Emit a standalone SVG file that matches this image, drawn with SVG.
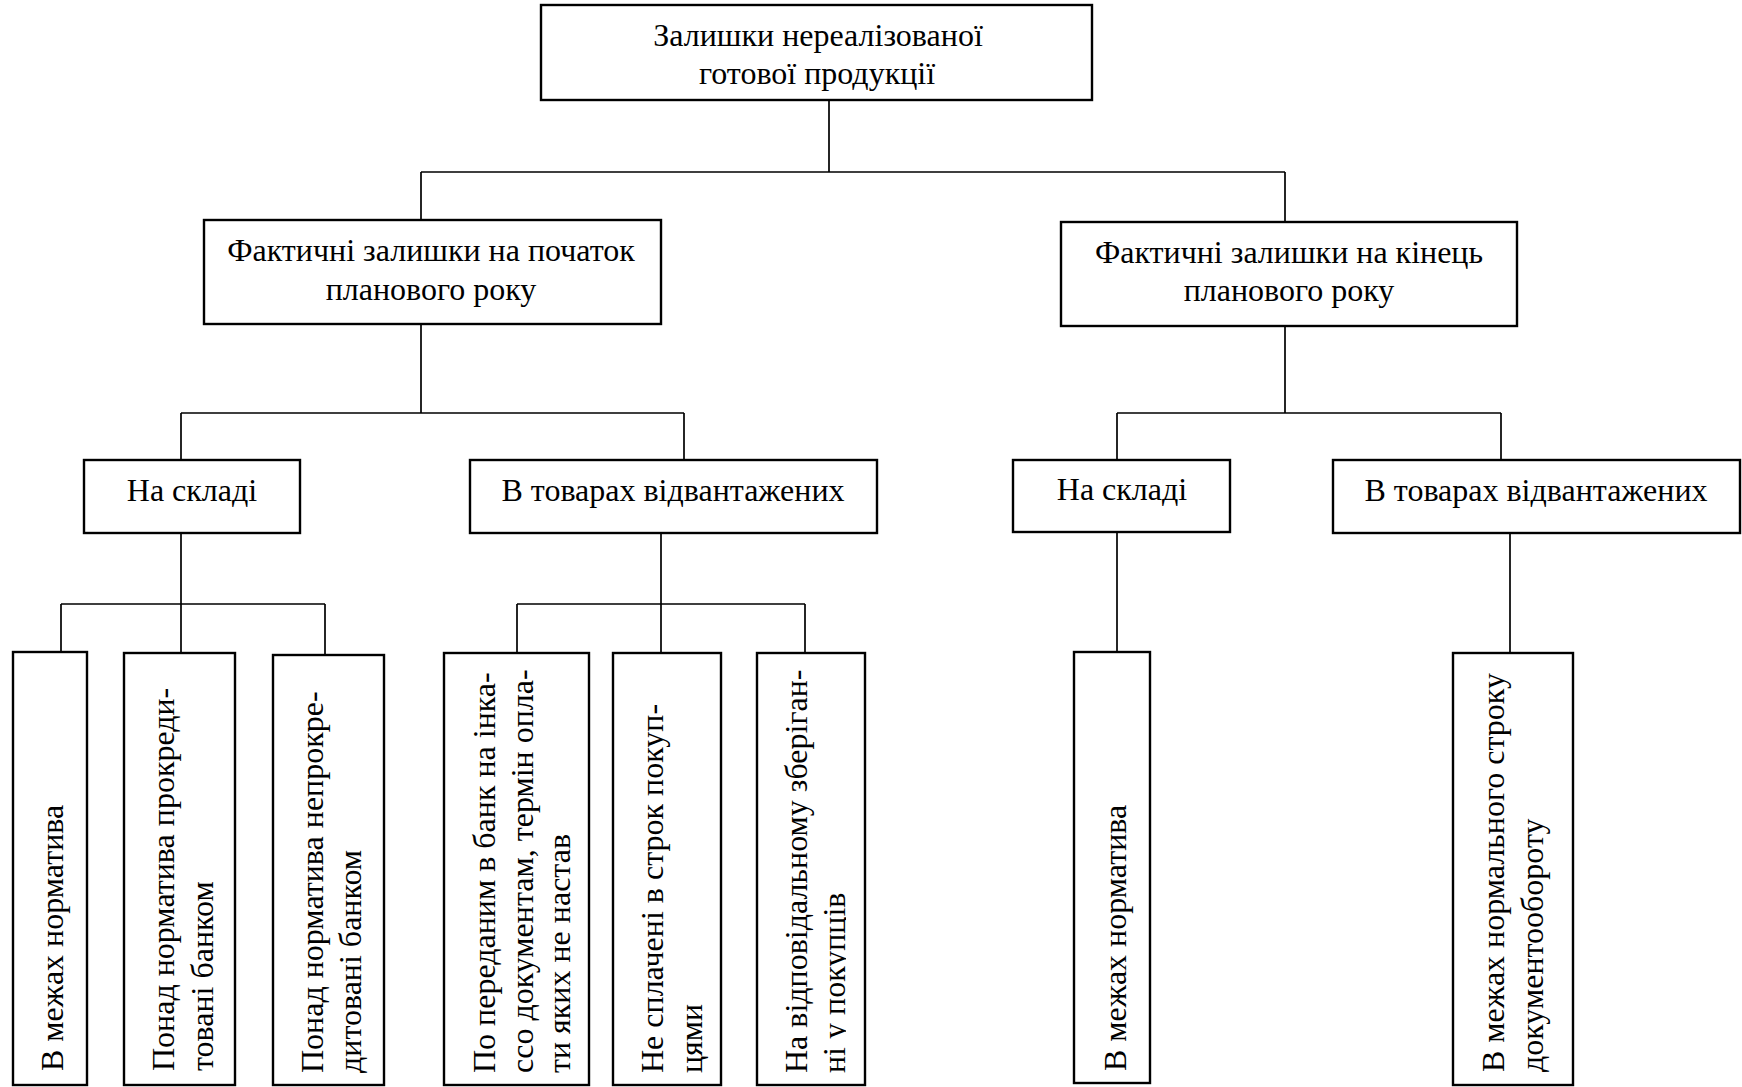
<svg xmlns="http://www.w3.org/2000/svg" width="1742" height="1087" viewBox="0 0 1742 1087">
<style>
.box{fill:#fff;stroke:#000;stroke-width:2.4}
.con{fill:none;stroke:#000;stroke-width:1.7}
.t{font-family:'Liberation Serif','Times New Roman','DejaVu Serif',serif;font-size:32px;fill:#000}
.c{text-anchor:middle}
</style>
<defs>
<clipPath id="clipB6"><rect x="750" y="640" width="96" height="450"/></clipPath>
</defs>
<rect width="1742" height="1087" fill="#fff"/>
<g id="connectors">
<path class="con" d="M829,100 V172 M421,172 H1285 M421,172 V220 M1285,172 V222"/>
<path class="con" d="M421,324 V413 M181,413 H684 M181,413 V461 M684,413 V461"/>
<path class="con" d="M1285,326 V413 M1117,413 H1501 M1117,413 V461 M1501,413 V461"/>
<path class="con" d="M181,533 V653 M61,604 H325 M61,604 V652 M325,604 V655"/>
<path class="con" d="M661,533 V653 M517,604 H805 M517,604 V653 M805,604 V653"/>
<path class="con" d="M1117,532 V652"/>
<path class="con" d="M1510,533 V653"/>
</g>
<g class="t" font-family="Liberation Serif, DejaVu Serif, serif">
<g id="n-root">
<rect class="box" x="541" y="5" width="551" height="95"/>
<text class="c" x="818" y="46">Залишки нереалізованої</text>
<text class="c" x="817" y="84">готової продукції</text>
</g>
<g id="n-start">
<rect class="box" x="204" y="220" width="457" height="104"/>
<text class="c" x="431" y="261">Фактичні залишки на початок</text>
<text class="c" x="431" y="300">планового року</text>
</g>
<g id="n-end">
<rect class="box" x="1061" y="222" width="456" height="104"/>
<text class="c" x="1289" y="263">Фактичні залишки на кінець</text>
<text class="c" x="1289" y="301">планового року</text>
</g>
<g id="n-start-warehouse">
<rect class="box" x="84" y="460" width="216" height="73"/>
<text class="c" x="192" y="501">На складі</text>
</g>
<g id="n-start-shipped">
<rect class="box" x="470" y="460" width="407" height="73"/>
<text class="c" x="673" y="501">В товарах відвантажених</text>
</g>
<g id="n-end-warehouse">
<rect class="box" x="1013" y="460" width="217" height="72"/>
<text class="c" x="1122" y="500">На складі</text>
</g>
<g id="n-end-shipped">
<rect class="box" x="1333" y="460" width="407" height="73"/>
<text class="c" x="1536" y="501">В товарах відвантажених</text>
</g>
<g id="n-b1">
<rect class="box" x="13" y="652" width="74" height="433"/>
<text transform="translate(63,1071) rotate(-90)">В межах норматива</text>
</g>
<g id="n-b2">
<rect class="box" x="124" y="653" width="111" height="432"/>
<text transform="translate(174,1071) rotate(-90)">Понад норматива прокреди-<tspan x="0" dy="39">товані банком</tspan></text>
</g>
<g id="n-b3">
<rect class="box" x="273" y="655" width="111" height="430"/>
<text transform="translate(323,1073) rotate(-90)">Понад норматива непрокре-<tspan x="0" dy="38">дитовані банком</tspan></text>
</g>
<g id="n-b4">
<rect class="box" x="444" y="653" width="145" height="432"/>
<text transform="translate(495,1073) rotate(-90)">По переданим в банк на інка-<tspan x="0" dy="38">ссо документам, термін опла-</tspan><tspan x="0" dy="37">ти яких не настав</tspan></text>
</g>
<g id="n-b5">
<rect class="box" x="613" y="653" width="108" height="432"/>
<text transform="translate(663,1073) rotate(-90)">Не сплачені в строк покуп-<tspan x="0" dy="39">цями</tspan></text>
</g>
<g id="n-b6">
<rect class="box" x="757" y="653" width="108" height="432"/>
<text transform="translate(807,1073) rotate(-90)">На відповідальному зберіган-</text>
<g clip-path="url(#clipB6)"><text transform="translate(845,1073) rotate(-90)">ні у покупців</text></g>
</g>
<g id="n-r1">
<rect class="box" x="1074" y="652" width="76" height="431"/>
<text transform="translate(1126,1071) rotate(-90)">В межах норматива</text>
</g>
<g id="n-r2">
<rect class="box" x="1453" y="653" width="120" height="432"/>
<text transform="translate(1504,1072) rotate(-90)">В межах нормального строку<tspan x="0" dy="39">документообороту</tspan></text>
</g>
</g>
</svg>
